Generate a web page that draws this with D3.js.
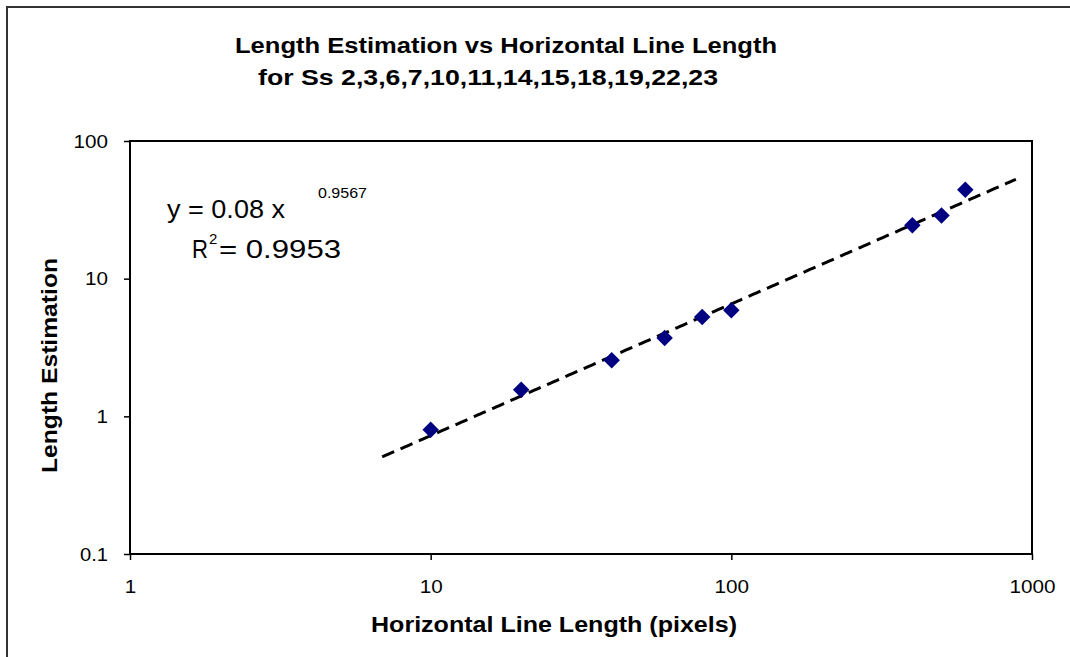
<!DOCTYPE html>
<html>
<head>
<meta charset="utf-8">
<script src="https://cdn.jsdelivr.net/npm/d3@7"></script>
<style>
  html, body { margin: 0; padding: 0; background: #fff; }
  svg { display: block; font-family: "Liberation Sans", Arial, sans-serif; }
</style>
</head>
<body>
<svg id="chart" width="1070" height="657"></svg>
<script>
// Observed points: line length (pixels) vs mean length estimate
const lineLengths = [10, 20, 40, 60, 80, 100, 400, 500, 600];
const estimates   = [0.80, 1.56, 2.55, 3.70, 5.26, 5.89, 24.4, 28.8, 44.3];

// Power trend fit y = a * x^b
const fitA = 0.08;
const fitB = 0.9567;
const fitR2 = 0.9953;
const fitRange = [6.9, 884];

const xTicks = [1, 10, 100, 1000];
const yTicks = [0.1, 1, 10, 100];

const titleLines = [
  "Length Estimation vs Horizontal Line Length",
  "for Ss 2,3,6,7,10,11,14,15,18,19,22,23"
];
const xTitle = "Horizontal Line Length (pixels)";
const yTitle = "Length Estimation";

const svg = d3.select("#chart");

// stretch a text to a set width (the chart's typeface runs wide)
function fit(sel, w) {
  return sel.attr("textLength", w).attr("lengthAdjust", "spacingAndGlyphs");
}

// outer frame (open on right and bottom)
svg.append("path")
  .attr("d", "M7,657 L7,7 L1070,7")
  .attr("fill", "none").attr("stroke", "#333").attr("stroke-width", 2);

const plot = { left: 130, right: 1032, top: 141, bottom: 554 };

const x = d3.scaleLog().domain([1, 1000]).range([plot.left, plot.right]);
const y = d3.scaleLog().domain([0.1, 100]).range([plot.bottom, plot.top]);

// titles
fit(svg.append("text").attr("x", 235).attr("y", 53)
  .attr("font-weight", "bold").attr("font-size", 22)
  .text(titleLines[0]), 542);
fit(svg.append("text").attr("x", 258).attr("y", 85)
  .attr("font-weight", "bold").attr("font-size", 22)
  .text(titleLines[1]), 460);

// axes
const fmt = d3.format("~g");
const xAxis = d3.axisBottom(x).tickValues(xTicks).tickFormat(fmt).tickSizeOuter(0).tickSize(6).tickPadding(20);
const yAxis = d3.axisLeft(y).tickValues(yTicks).tickFormat(fmt).tickSizeOuter(0).tickSize(6).tickPadding(16);

const gx = svg.append("g").attr("transform", `translate(0,${plot.bottom})`).call(xAxis);
const gy = svg.append("g").attr("transform", `translate(${plot.left},0)`).call(yAxis);
const labelWidth = s => s.replace(/\./g, "").length * 11.5 + (s.includes(".") ? 5 : 0);
[gx, gy].forEach(g => {
  g.select(".domain").remove();
  g.selectAll("line").attr("stroke", "#000").attr("stroke-width", 1.5);
  g.selectAll("text").attr("font-size", 19).attr("fill", "#000")
    .attr("font-family", "'Liberation Sans', Arial, sans-serif")
    .each(function() { fit(d3.select(this), labelWidth(this.textContent)); });
});

// plot frame
svg.append("rect")
  .attr("x", plot.left).attr("y", plot.top)
  .attr("width", plot.right - plot.left).attr("height", plot.bottom - plot.top)
  .attr("fill", "none").attr("stroke", "#000").attr("stroke-width", 2);

// axis titles
fit(svg.append("text").attr("x", 371).attr("y", 632)
  .attr("font-weight", "bold").attr("font-size", 22)
  .text(xTitle), 366);
fit(svg.append("text")
  .attr("transform", "translate(57,366) rotate(-90)")
  .attr("x", -107)
  .attr("font-weight", "bold").attr("font-size", 22)
  .text(yTitle), 215);

// power trend line
const fitXs = d3.range(0, 201).map(i =>
  Math.exp(Math.log(fitRange[0]) + i / 200 * (Math.log(fitRange[1]) - Math.log(fitRange[0]))));
svg.append("path")
  .datum(fitXs)
  .attr("d", d3.line().x(d => x(d)).y(d => y(fitA * Math.pow(d, fitB))))
  .attr("fill", "none").attr("stroke", "#000").attr("stroke-width", 3)
  .attr("stroke-dasharray", "13,7");

// diamond markers
const diamond = d3.symbol().type(d3.symbolSquare).size(136);
svg.append("g").selectAll("path")
  .data(lineLengths.map((v, i) => [v, estimates[i]]))
  .join("path")
  .attr("d", diamond)
  .attr("transform", d => `translate(${x(d[0])},${y(d[1])}) rotate(45)`)
  .attr("fill", "#000080");

// equation labels
fit(svg.append("text").attr("x", 167).attr("y", 218).attr("font-size", 25)
  .text(`y = ${fitA} x`), 118);
fit(svg.append("text").attr("x", 318).attr("y", 198).attr("font-size", 15)
  .text(fitB), 49);
fit(svg.append("text").attr("x", 192).attr("y", 258).attr("font-size", 25).text("R"), 16);
svg.append("text").attr("x", 209).attr("y", 244).attr("font-size", 15).text("2");
fit(svg.append("text").attr("x", 219).attr("y", 258).attr("font-size", 25).text(`= ${fitR2}`), 122);
</script>
</body>
</html>
